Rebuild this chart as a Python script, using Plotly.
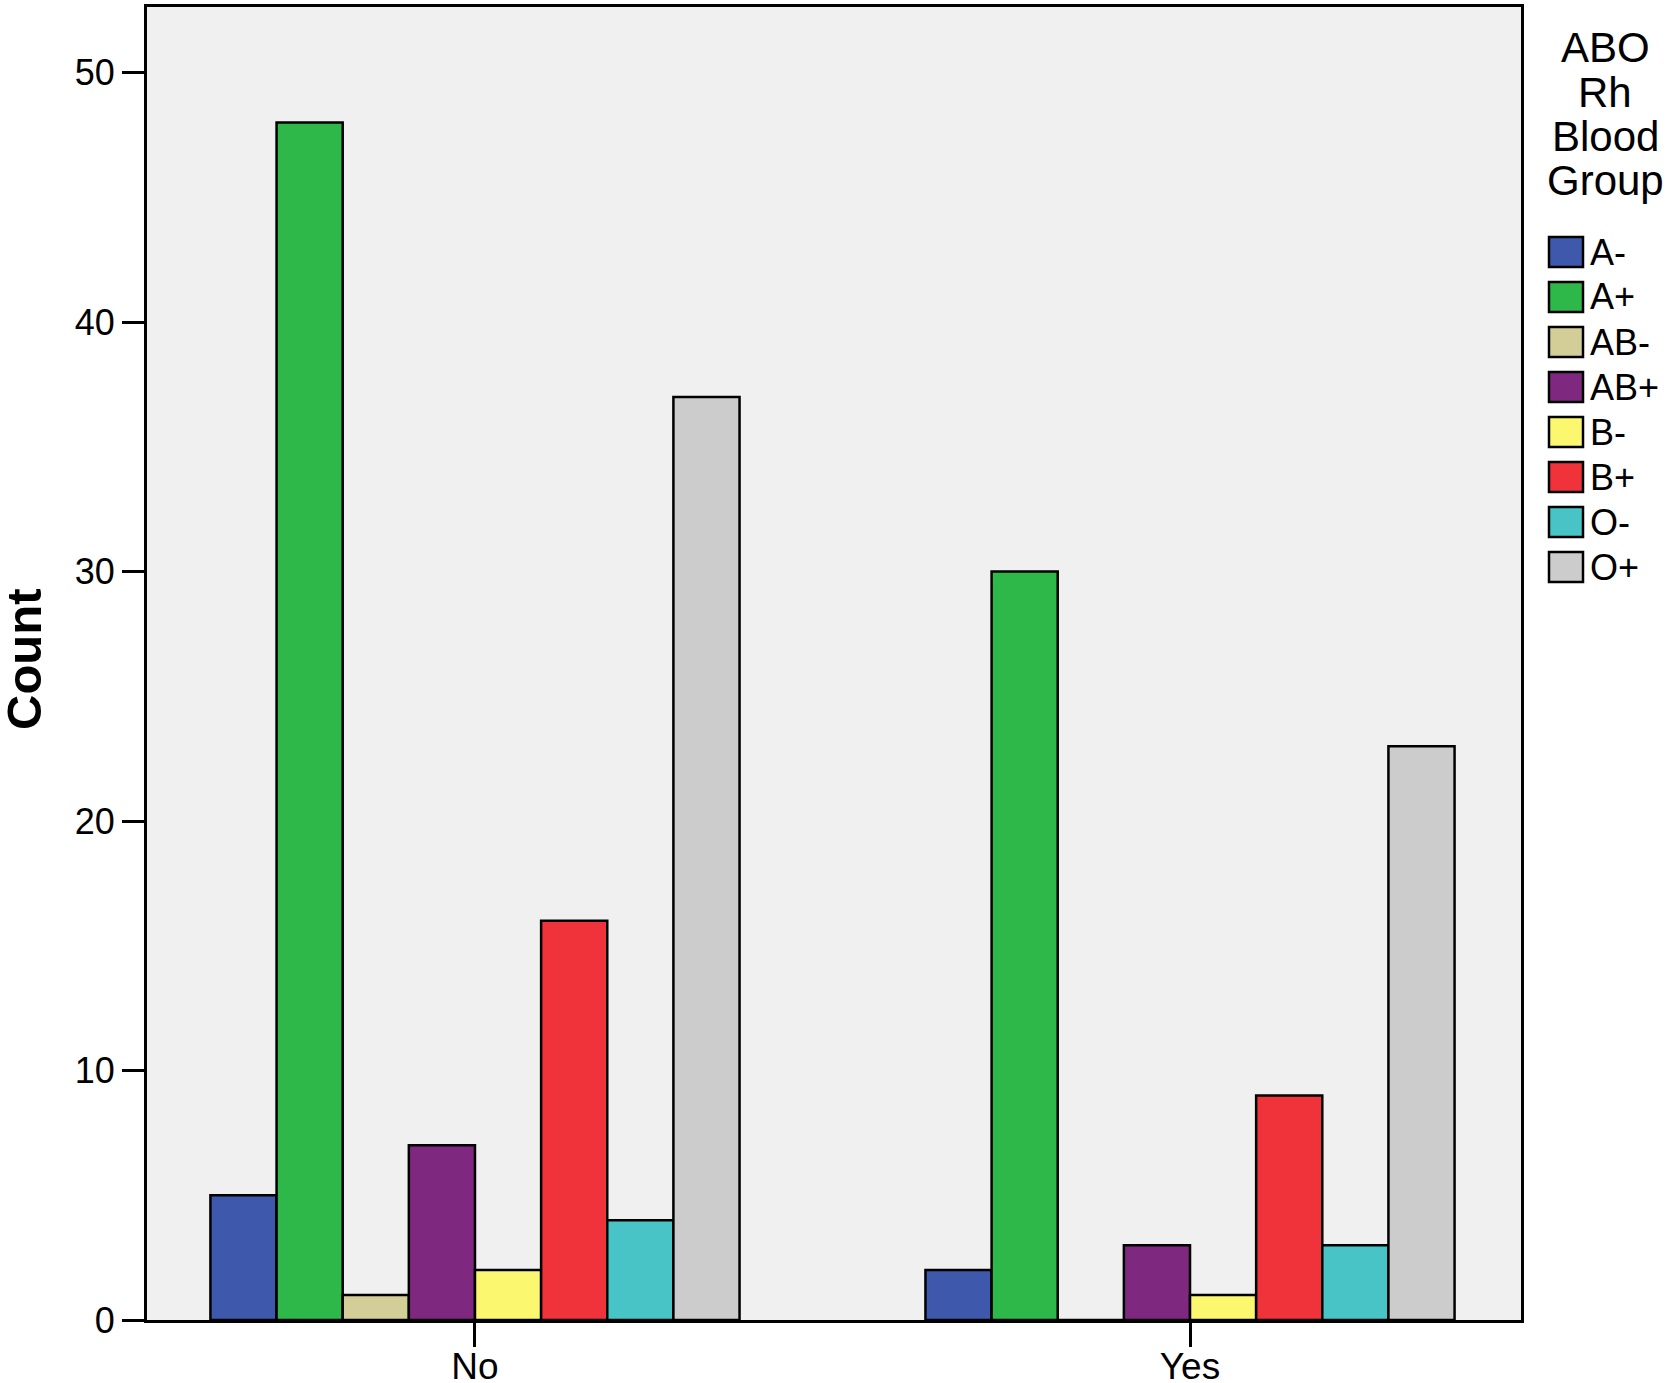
import plotly.graph_objects as go

categories = ["No", "Yes"]
blood_groups = ["A-", "A+", "AB-", "AB+", "B-", "B+", "O-", "O+"]
counts_no = [5, 48, 1, 7, 2, 16, 4, 37]
counts_yes = [2, 30, 0, 3, 1, 9, 3, 23]
colors = ["#3e58ac", "#2eb84a", "#d3ce97", "#7f287f",
          "#fbf86f", "#f0323a", "#48c4c6", "#cccccc"]
legend_title = ["ABO", "Rh", "Blood", "Group"]
y_ticks = [0, 10, 20, 30, 40, 50]

FONT = "Liberation Sans, Arial, sans-serif"

FW, FH = 1666, 1383
L, R, T, B = 147, 145, 7, 63
W, H = FW - L - R, FH - T - B


def px(x):
    # page pixel -> paper x
    return (x - L) / W


def py(y):
    # page pixel -> paper y
    return (FH - B - y) / H


fig = go.Figure()
for i, grp in enumerate(blood_groups):
    fig.add_trace(go.Bar(
        x=categories, y=[counts_no[i], counts_yes[i]], name=grp,
        marker=dict(color=colors[i], line=dict(color="black", width=2.5)),
    ))

# legend drawn by hand so the swatches can be as big as in the original
for j, line in enumerate(legend_title):
    fig.add_annotation(
        text=line, xref="paper", yref="paper",
        x=px(1605), y=py(48 + 44.3 * j), xanchor="center", yanchor="middle",
        showarrow=False, font=dict(family=FONT, size=42, color="black"),
    )
for i, grp in enumerate(blood_groups):
    cy = 252 + 45 * i
    fig.add_shape(
        type="rect", xref="paper", yref="paper",
        x0=px(1549), x1=px(1583), y0=py(cy + 15), y1=py(cy - 15),
        fillcolor=colors[i], line=dict(color="black", width=2.5),
    )
    fig.add_annotation(
        text=grp, xref="paper", yref="paper",
        x=px(1588), y=py(cy), xanchor="left", yanchor="middle",
        showarrow=False, font=dict(family=FONT, size=36, color="black"),
    )

fig.add_annotation(
    text="<b>Count</b>", xref="paper", yref="paper",
    x=px(24), y=py(659), xanchor="center", yanchor="middle",
    textangle=-90, showarrow=False, font=dict(family=FONT, size=49, color="black"),
)

fig.update_layout(
    width=FW, height=FH,
    margin=dict(l=L, r=R, t=T, b=B, pad=0, autoexpand=False),
    barmode="group", bargap=0.26, bargroupgap=0,
    plot_bgcolor="#f0f0f0", paper_bgcolor="white",
    showlegend=False,
    font=dict(family=FONT, size=36, color="black"),
)
fig.update_xaxes(
    range=[-0.4587, 1.4629], showgrid=False, automargin=False,
    showline=True, linecolor="black", linewidth=3, mirror=True,
    ticks="outside", ticklen=24, tickwidth=3, tickcolor="black",
    tickfont=dict(size=37), ticklabelstandoff=-12,
)
fig.update_yaxes(
    range=[0, 52.63], tickvals=y_ticks, showgrid=False, zeroline=False, automargin=False,
    showline=True, linecolor="black", linewidth=3, mirror=True,
    ticks="outside", ticklen=22, tickwidth=3, tickcolor="black",
    tickfont=dict(size=36),
)

# the page body has a default 8px margin; drop it so the figure fills the window exactly
fig.write_html(
    "out.html",
    config={"displayModeBar": False},
    post_script="document.body.style.margin = '0';",
)
